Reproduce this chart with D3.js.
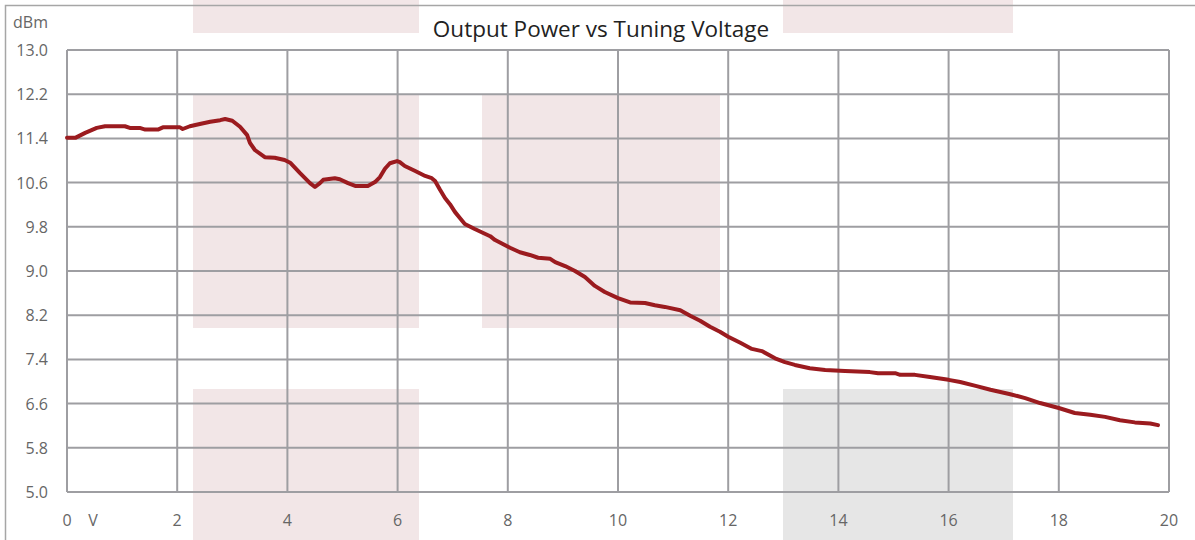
<!DOCTYPE html>
<html>
<head>
<meta charset="utf-8">
<script src="https://cdn.jsdelivr.net/npm/d3@7"></script>
<style>
  body { margin: 0; background: #fff; }
  svg { display: block; font-family: "Open Sans", "Liberation Sans", sans-serif; }
</style>
</head>
<body>
<div id="chart"></div>
<script>
const width = 1195;
const height = 540;

// tuning voltage (V) and output power (dBm)
const voltage = [0, 0.15, 0.33, 0.54, 0.69, 1.05, 1.14, 1.32, 1.42, 1.65, 1.74, 2.05, 2.1, 2.23, 2.41, 2.6, 2.78, 2.87, 3.0, 3.14, 3.27, 3.32, 3.41, 3.59, 3.77, 3.95, 4.05, 4.23, 4.41, 4.5, 4.59, 4.65, 4.86, 4.95, 5.1, 5.23, 5.46, 5.59, 5.68, 5.77, 5.86, 5.99, 6.04, 6.13, 6.32, 6.5, 6.62, 6.68, 6.77, 6.86, 6.95, 7.04, 7.13, 7.22, 7.4, 7.68, 7.77, 8.04, 8.22, 8.4, 8.55, 8.77, 8.86, 9.04, 9.22, 9.4, 9.58, 9.76, 10.0, 10.22, 10.49, 10.67, 10.85, 11.13, 11.31, 11.49, 11.67, 11.85, 12.0, 12.22, 12.43, 12.61, 12.85, 13.03, 13.21, 13.48, 13.76, 14.12, 14.57, 14.72, 15.03, 15.12, 15.39, 15.66, 16.0, 16.21, 16.49, 16.76, 17.12, 17.39, 17.66, 18.0, 18.29, 18.57, 18.84, 19.11, 19.38, 19.66, 19.8];
const power = [11.41, 11.41, 11.5, 11.59, 11.62, 11.62, 11.59, 11.59, 11.56, 11.56, 11.6, 11.6, 11.57, 11.62, 11.66, 11.7, 11.73, 11.75, 11.72, 11.61, 11.46, 11.32, 11.19, 11.06, 11.05, 11.01, 10.96, 10.77, 10.59, 10.52, 10.59, 10.65, 10.68, 10.66, 10.59, 10.54, 10.54, 10.61, 10.7, 10.85, 10.95, 10.99, 10.97, 10.9, 10.81, 10.72, 10.68, 10.63, 10.47, 10.32, 10.21, 10.07, 9.96, 9.85, 9.76, 9.63, 9.56, 9.42, 9.34, 9.29, 9.24, 9.22, 9.16, 9.09, 9.0, 8.89, 8.73, 8.62, 8.51, 8.43, 8.42, 8.38, 8.35, 8.29, 8.19, 8.1, 7.99, 7.9, 7.81, 7.7, 7.59, 7.55, 7.42, 7.35, 7.3, 7.24, 7.21, 7.19, 7.17, 7.15, 7.15, 7.12, 7.12, 7.08, 7.03, 6.99, 6.92, 6.85, 6.77, 6.7, 6.61, 6.52, 6.43, 6.4, 6.36, 6.3, 6.26, 6.24, 6.21];

const xTicks = [0, 2, 4, 6, 8, 10, 12, 14, 16, 18, 20];
const yTicks = [5.0, 5.8, 6.6, 7.4, 8.2, 9.0, 9.8, 10.6, 11.4, 12.2, 13.0];

// decorative background blocks (in pixels, behind everything)
const blocks = [
    { x: 193, y: 0, w: 226, h: 33, fill: "#f2e6e7" },
    { x: 193, y: 95, w: 226, h: 233, fill: "#f2e6e7" },
    { x: 193, y: 389, w: 226, h: 160, fill: "#f2e6e7" },
    { x: 482, y: 95, w: 238, h: 233, fill: "#f2e6e7" },
    { x: 783, y: 0, w: 230, h: 33, fill: "#f2e6e7" },
    { x: 783, y: 389, w: 230, h: 160, fill: "#e6e6e6" }
];

const margin = { left: 67, top: 50, right: 26, bottom: 48 };

const x = d3.scaleLinear().domain([0, 20]).range([margin.left, width - margin.right]);
const y = d3.scaleLinear().domain([5, 13]).range([height - margin.bottom, margin.top]);

const svg = d3.select("#chart").append("svg")
    .attr("width", width)
    .attr("height", height);

svg.append("g").selectAll("rect")
    .data(blocks)
    .join("rect")
    .attr("x", d => d.x)
    .attr("y", d => d.y)
    .attr("width", d => d.w)
    .attr("height", d => d.h)
    .attr("fill", d => d.fill);

// outer chart frame
svg.append("rect")
    .attr("x", 5.5).attr("y", 5.5)
    .attr("width", 1300).attr("height", 700)
    .attr("fill", "none")
    .attr("stroke", "#a6a6a6")
    .attr("stroke-width", 1.5);

const grid = svg.append("g")
    .attr("stroke", "#9e9ea2")
    .attr("stroke-width", 2);

grid.selectAll("line.v")
    .data(xTicks)
    .join("line")
    .attr("class", "v")
    .attr("x1", d => x(d)).attr("x2", d => x(d))
    .attr("y1", y(13)).attr("y2", y(5));

grid.selectAll("line.h")
    .data(yTicks)
    .join("line")
    .attr("class", "h")
    .attr("x1", x(0)).attr("x2", x(20))
    .attr("y1", d => y(d)).attr("y2", d => y(d));

svg.append("g")
    .attr("fill", "#666")
    .attr("font-size", 16)
    .attr("text-anchor", "end")
    .selectAll("text")
    .data(yTicks)
    .join("text")
    .attr("x", 48)
    .attr("y", d => y(d) + 6)
    .text(d => d.toFixed(1));

svg.append("g")
    .attr("fill", "#666")
    .attr("font-size", 16)
    .attr("text-anchor", "middle")
    .selectAll("text")
    .data(xTicks)
    .join("text")
    .attr("x", d => x(d))
    .attr("y", 526)
    .text(d => d);

svg.append("text")
    .attr("x", x(0) + 26).attr("y", 526)
    .attr("text-anchor", "middle")
    .attr("fill", "#666")
    .attr("font-size", 16)
    .text("V");

svg.append("text")
    .attr("x", 13).attr("y", 28)
    .attr("fill", "#666")
    .attr("font-size", 16)
    .text("dBm");

svg.append("text")
    .attr("x", 601).attr("y", 37)
    .attr("text-anchor", "middle")
    .attr("fill", "#222")
    .attr("font-size", 22.5)
    .text("Output Power vs Tuning Voltage");

const points = voltage.map((v, i) => [v, power[i]]);

svg.append("path")
    .datum(points)
    .attr("fill", "none")
    .attr("stroke", "#9b1b1f")
    .attr("stroke-width", 4)
    .attr("stroke-linejoin", "round")
    .attr("stroke-linecap", "round")
    .attr("d", d3.line().x(d => x(d[0])).y(d => y(d[1])));
</script>
</body>
</html>
